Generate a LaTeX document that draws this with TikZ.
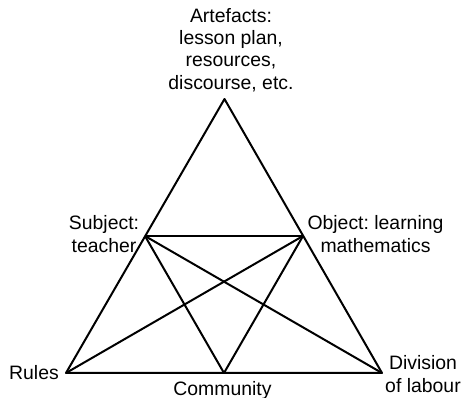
\documentclass[tikz,border=0pt]{standalone}
\usepackage{fontspec}
\setmainfont{Liberation Sans}
\usetikzlibrary{calc}
\frenchspacing
\tikzset{lbl/.style={align=center,inner sep=0pt,font=\fontsize{9.7}{11.2}\selectfont}}
\begin{document}
\begin{tikzpicture}[x=.5pt,y=.5pt,line width=1pt,line join=round]
\useasboundingbox(0,0)rectangle(463,398);
\coordinate(art)at(224.5,299);\coordinate(sub)at(145,162);\coordinate(obj)at(303,162);
\coordinate(rul)at(66,25);\coordinate(com)at(224,25);\coordinate(div)at(382,25);
\node[lbl](artl)at(231,348){Artefacts:\\lesson plan,\\resources,\\discourse, etc.};
\node[lbl](subl)at(104,164){Subject:\\teacher};\node[lbl](objl)at(375.5,164){Object: learning\\mathematics};
\node[lbl](rull)at(34,25){Rules};\node[lbl](coml)at(222.5,8){Community};\node[lbl](divl)at(423,24){Division\\of labour};
\draw(art)--(rul)--(div)--cycle;
\draw(sub)--(obj);\draw(sub)--(com)--(obj);\draw(sub)--(div);\draw(obj)--(rul);
\end{tikzpicture}
\end{document}
